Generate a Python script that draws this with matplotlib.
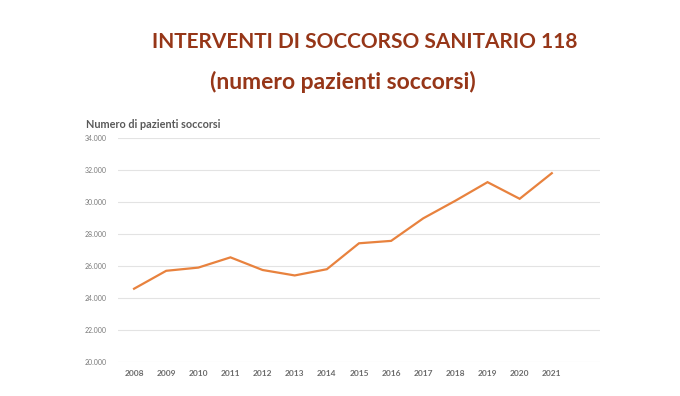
import matplotlib.pyplot as plt
from matplotlib.ticker import FuncFormatter

# data
anni = ['2008', '2009', '2010', '2011', '2012', '2013', '2014',
        '2015', '2016', '2017', '2018', '2019', '2020', '2021']
pazienti = [24580, 25700, 25900, 26540, 25750, 25410, 25800,
            27420, 27570, 28980, 30080, 31240, 30200, 31800]
y_ticks = [20000, 22000, 24000, 26000, 28000, 30000, 32000, 34000]

plt.rcParams['font.family'] = ['Lato', 'DejaVu Sans']

fig = plt.figure(figsize=(6.8, 3.96), dpi=100)
ax = fig.add_axes([118 / 680, 1 - 362 / 396, 482 / 680, 224 / 396])

x = list(range(len(anni)))
ax.plot(x, pazienti, color='#E8823E', linewidth=1.6, solid_joinstyle='miter')

ax.set_xlim(-0.5, len(anni) + 0.5)
ax.set_ylim(20000, 34000)
ax.set_yticks(y_ticks)
ax.yaxis.set_major_formatter(FuncFormatter(lambda v, p: f'{int(v):,}'.replace(',', '.')))
ax.set_xticks(x)
ax.set_xticklabels(anni, fontsize=6, fontweight='bold', color='#6b6b6b')
ax.tick_params(axis='y', labelsize=5, labelcolor='#7a7a7a', length=0, pad=8)
ax.tick_params(axis='x', length=0, pad=6)

ax.grid(axis='y', color='#e3e3e3', linewidth=0.8)
ax.set_axisbelow(True)
for s in ax.spines.values():
    s.set_visible(False)

# titles
fig.text(365 / 680, 1 - 42 / 396, 'INTERVENTI DI SOCCORSO SANITARIO 118',
         ha='center', va='center', fontsize=15, fontweight='bold', color='#963618')
fig.text(343 / 680, 1 - 82 / 396, '(numero pazienti soccorsi)',
         ha='center', va='center', fontsize=16.5, fontweight='bold', color='#963618')
fig.text(86 / 680, 1 - 124 / 396, 'Numero di pazienti soccorsi',
         ha='left', va='center', fontsize=7.8, fontweight='bold', color='#595959')

fig.savefig('out.png', dpi=100)
